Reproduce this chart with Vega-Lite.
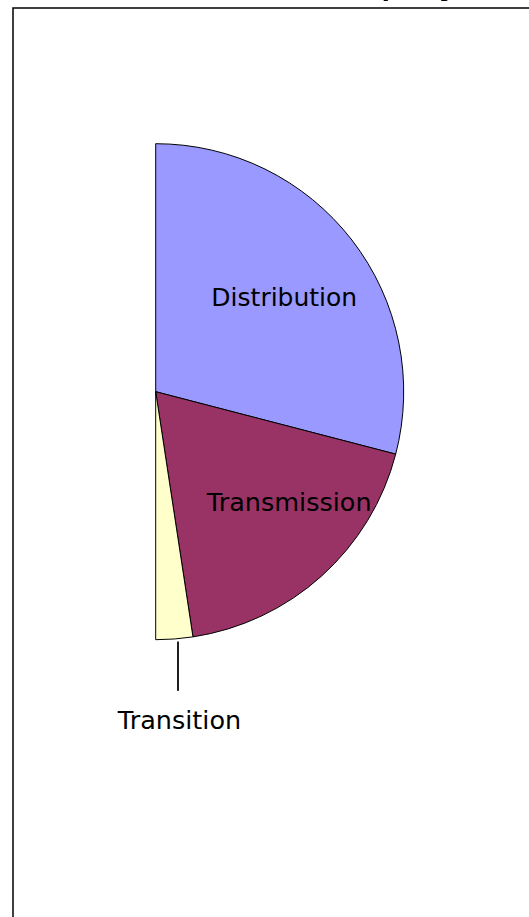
{
  "$schema": "https://vega.github.io/schema/vega-lite/v6.json",
  "width": 520,
  "height": 912,
  "autosize": {"type": "none"},
  "padding": {"left": 13, "top": 8, "right": 0, "bottom": 0},
  "background": "white",
  "config": {"view": {"stroke": "#000", "strokeWidth": 1.5}, "font": "DejaVu Sans"},
  "data": {"values": [
    {"cat": "Distribution", "value": 58.1},
    {"cat": "Transmission", "value": 37.1},
    {"cat": "Transition", "value": 4.8}
  ]},
  "encoding": {
    "x": {"datum": 0, "type": "quantitative", "scale": {"domain": [-1.427, 3.773], "nice": false, "zero": false}, "axis": null},
    "y": {"datum": 0, "type": "quantitative", "scale": {"domain": [-5.283, 3.837], "nice": false, "zero": false}, "axis": null}
  },
  "layer": [
    {
      "mark": {"type": "arc", "radius": 248, "stroke": "#000", "strokeWidth": 1},
      "encoding": {
        "theta": {"field": "value", "type": "quantitative", "stack": true, "scale": {"range": [0, 3.14159265]}},
        "order": {"field": "value", "sort": "descending"},
        "color": {"field": "cat", "type": "nominal", "scale": {"domain": ["Distribution", "Transmission", "Transition"], "range": ["#9999FF", "#993366", "#FFFFCC"]}, "legend": null}
      }
    },
    {
      "mark": {"type": "text", "radius": 160, "dx": 2, "dy": 4, "fontSize": 25, "font": "DejaVu Sans", "color": "#000"},
      "encoding": {
        "theta": {"field": "value", "type": "quantitative", "stack": true, "scale": {"range": [0, 3.14159265]}},
        "order": {"field": "value", "sort": "descending"},
        "detail": {"field": "cat", "type": "nominal"},
        "text": {"field": "cat", "type": "nominal"},
        "opacity": {"condition": {"test": "datum.cat === 'Distribution'", "value": 1}, "value": 0}
      }
    },
    {
      "mark": {"type": "text", "radius": 171, "dx": 19, "dy": -16, "fontSize": 25.5, "font": "DejaVu Sans", "color": "#000"},
      "encoding": {
        "theta": {"field": "value", "type": "quantitative", "stack": true, "scale": {"range": [0, 3.14159265]}},
        "order": {"field": "value", "sort": "descending"},
        "detail": {"field": "cat", "type": "nominal"},
        "text": {"field": "cat", "type": "nominal"},
        "opacity": {"condition": {"test": "datum.cat === 'Transmission'", "value": 1}, "value": 0}
      }
    },
    {
      "mark": {"type": "text", "radius": 329, "dx": -1, "dy": 1, "fontSize": 25.5, "font": "DejaVu Sans", "color": "#000"},
      "encoding": {
        "theta": {"field": "value", "type": "quantitative", "stack": true, "scale": {"range": [0, 3.14159265]}},
        "order": {"field": "value", "sort": "descending"},
        "detail": {"field": "cat", "type": "nominal"},
        "text": {"field": "cat", "type": "nominal"},
        "opacity": {"condition": {"test": "datum.cat === 'Transition'", "value": 1}, "value": 0}
      }
    },
    {
      "mark": {"type": "rule", "color": "#000", "strokeWidth": 1},
      "encoding": {
        "x": {"datum": 0.223, "type": "quantitative"},
        "y": {"datum": -2.50, "type": "quantitative"},
        "y2": {"datum": -2.99}
      }
    },
    {
      "mark": {"type": "text", "align": "left", "baseline": "alphabetic", "fontSize": 38, "font": "DejaVu Sans", "color": "#000"},
      "encoding": {
        "x": {"datum": 1.653, "type": "quantitative"},
        "y": {"datum": 3.985, "type": "quantitative"},
        "text": {"datum": "Display"}
      }
    }
  ]
}
